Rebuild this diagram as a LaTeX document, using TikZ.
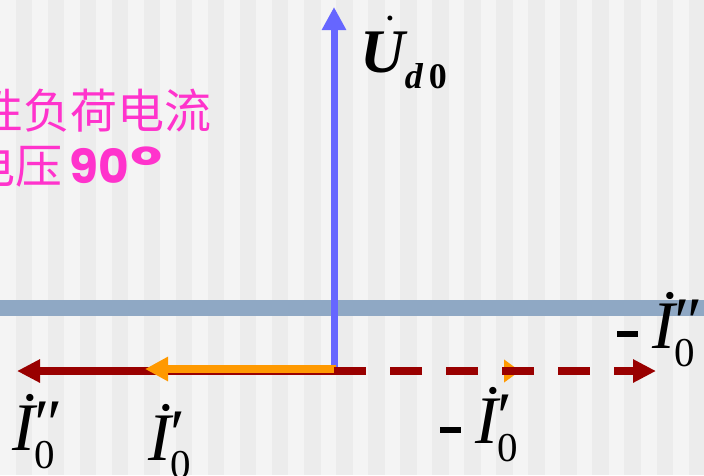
\documentclass[tikz,border=0pt]{standalone}
\usepackage{fontspec}
\setmainfont{Liberation Serif}
\newfontfamily\cjkfont{Noto Sans CJK SC}
\newfontfamily\numfont{Poppins}
\usetikzlibrary{arrows.meta}
\definecolor{stripelight}{RGB}{244,244,244}
\definecolor{stripedark}{RGB}{236,236,236}
\definecolor{axisband}{RGB}{143,168,196}
\definecolor{voltblue}{RGB}{102,102,255}
\definecolor{darkred}{RGB}{153,0,0}
\definecolor{curorange}{RGB}{255,153,0}
\definecolor{notepink}{RGB}{255,51,204}

\begin{document}
\begin{tikzpicture}[x=1pt, y=-1pt,
  vec/.style={line width=8pt, -{Triangle[length=23pt, width=23pt]}},
  dashvec/.style={vec, dash pattern=on 32pt off 24pt},
  lbl/.style={inner sep=0pt, anchor=base west, font=\fontsize{68}{68}\selectfont},
  note/.style={inner sep=0pt, anchor=base west, text=notepink, font=\cjkfont\fontsize{47}{56}\selectfont}
]
  \useasboundingbox (0,0) rectangle (704,475);
  \fill[stripedark] (0,0) rectangle (704,475);
  \foreach \k in {0,...,21}
    \fill[stripelight] (32.05*\k,0) rectangle ++(15.5,475);
  \fill[axisband] (0,300) rectangle (704,316);

  \coordinate (o) at (334,371);
  \coordinate (ob) at (334,375);
  \coordinate (oo) at (336,369);
  \coordinate (utip) at (334,7);
  \coordinate (ipptip) at (17,371);
  \coordinate (iptip) at (145,369);
  \coordinate (miptip) at (520,371);
  \coordinate (mipptip) at (656,371);

  \draw[vec, line width=7pt, voltblue] (ob) -- (utip);
  \draw[vec, darkred, -{Triangle[length=23pt, width=22pt]}] (o) -- (ipptip);
  \draw[vec, curorange] (oo) -- (iptip);
  \draw[dashvec, curorange, -{Triangle[length=16pt, width=22pt]}] (o) -- (miptip);
  \draw[dashvec, darkred, -{Triangle[length=23pt, width=22pt]}] (o) -- (mipptip);

  \node[note] (load) at (-71,128) {感性负荷电流};
  \node[note] (lag) at (-126,183) {滞后电压\hspace{7pt}{\numfont\bfseries 90\hspace{2pt}\scalebox{1.5}[1.1]{º}}};

  \node[lbl, font=\fontsize{62}{62}\selectfont\bfseries\itshape] (ud) at (360,72)
    {U\llap{\raisebox{52pt}{\fontsize{30}{30}\selectfont.}\kern10pt}\raisebox{-16pt}{\fontsize{36}{36}\selectfont d\kern6pt\upshape 0}};
  \node[lbl] (ipp) at (12,450)
    {\itshape İ\upshape\rlap{\raisebox{4pt}{″}}\raisebox{-18pt}{\fontsize{41}{41}\selectfont 0}};
  \node[lbl] (ip) at (148,460)
    {\itshape İ\upshape\rlap{\raisebox{4pt}{′}}\raisebox{-18pt}{\fontsize{41}{41}\selectfont 0}};
  \node[lbl] (mip) at (440,443)
    {\rule[10pt]{21pt}{6pt}\hspace{14pt}\itshape İ\upshape\rlap{\raisebox{4pt}{′}}\raisebox{-18pt}{\fontsize{41}{41}\selectfont 0}};
  \node[lbl] (mipp) at (617,348)
    {\rule[11pt]{21pt}{6pt}\hspace{14pt}\itshape İ\upshape\rlap{\raisebox{4pt}{″}}\raisebox{-18pt}{\fontsize{41}{41}\selectfont 0}};
\end{tikzpicture}
\end{document}
